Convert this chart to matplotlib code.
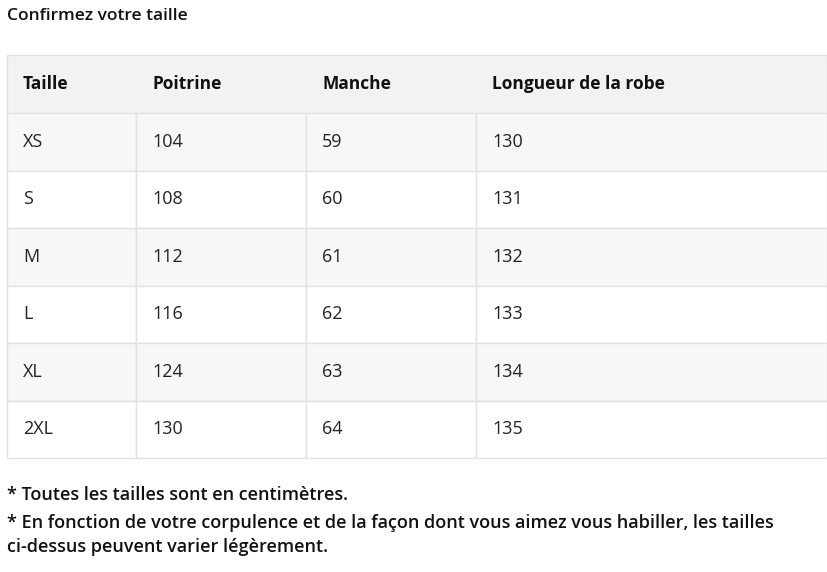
import matplotlib
matplotlib.use("Agg")
import matplotlib.pyplot as plt
from matplotlib.patches import Rectangle

title = "Confirmez votre taille"
columns = ["Taille", "Poitrine", "Manche", "Longueur de la robe"]
sizes = ["XS", "S", "M", "L", "XL", "2XL"]
poitrine = [104, 108, 112, 116, 124, 130]
manche = [59, 60, 61, 62, 63, 64]
longueur = [130, 131, 132, 133, 134, 135]
notes = ["* Toutes les tailles sont en centimètres.",
         "* En fonction de votre corpulence et de la façon dont vous aimez vous habiller, les tailles\nci-dessus peuvent varier légèrement."]

plt.rcParams['font.family'] = ['Open Sans', 'DejaVu Sans']
fig = plt.figure(figsize=(8.27, 5.72), dpi=100)
ax = fig.add_axes([0, 0, 1, 1])
ax.set_xlim(0, 827); ax.set_ylim(572, 0); ax.axis('off')

ax.text(7, 16, title, fontsize=12.5, fontweight='semibold', va='center', color='#111')

colx = [7, 136, 306, 476, 827]
top, hh, rh = 55, 58, 57.5
line = '#e2e2e2'
ax.add_patch(Rectangle((7, top), 820, hh, facecolor='#f2f2f2', edgecolor=line, lw=1))
for j, c in enumerate(columns):
    ax.text(colx[j] + 16, top + hh / 2, c, fontsize=12.5, fontweight='bold', va='center', color='#111')
rows = list(zip(sizes, poitrine, manche, longueur))
for i, r in enumerate(rows):
    y = top + hh + i * rh
    fc = '#f7f7f7' if i % 2 == 0 else 'white'
    for j in range(4):
        ax.add_patch(Rectangle((colx[j], y), colx[j + 1] - colx[j], rh, facecolor=fc, edgecolor=line, lw=1))
        ax.text(colx[j] + 16, y + rh / 2, str(r[j]), fontsize=13, va='center', color='#222')

ax.text(7, 495, notes[0], fontsize=13, fontweight='semibold', va='center', color='#111')
ax.text(7, 514, notes[1], fontsize=13, fontweight='semibold', va='top', color='#111', linespacing=1.45)
fig.savefig("out.png", dpi=100)
